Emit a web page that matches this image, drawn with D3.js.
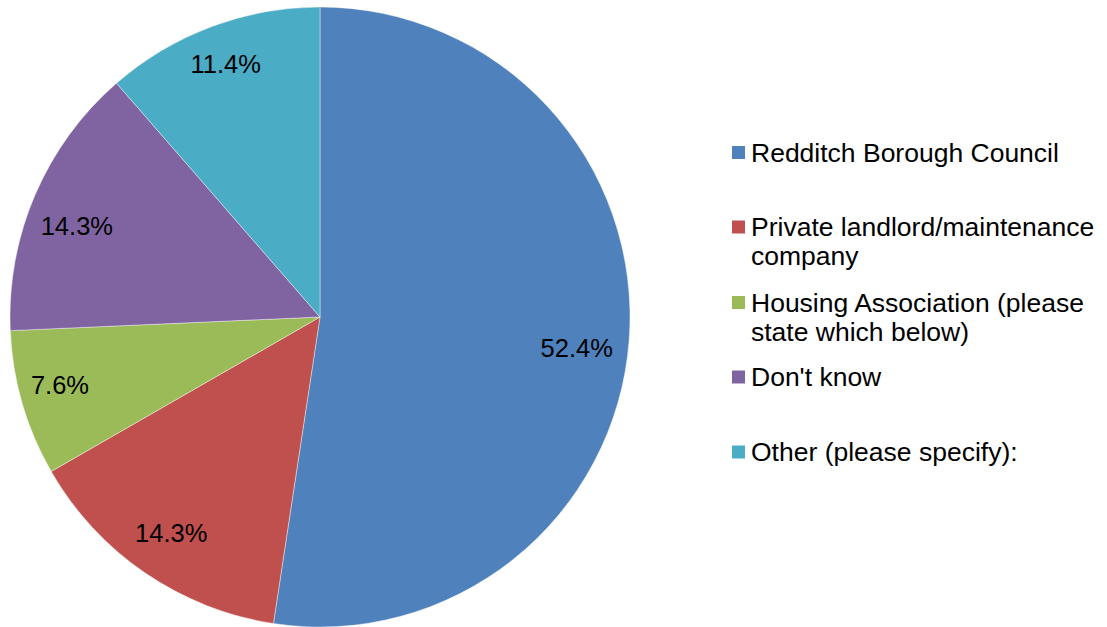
<!DOCTYPE html>
<html>
<head>
<meta charset="utf-8">
<script src="https://cdn.jsdelivr.net/npm/d3@7"></script>
<style>
  html, body { margin: 0; padding: 0; background: #fff; }
  svg { display: block; }
  text { font-family: Arial, "Liberation Sans", sans-serif; fill: #000; }
</style>
</head>
<body>
<svg id="chart" width="1107" height="627"></svg>
<script>
const categories = [
  "Redditch Borough Council",
  "Private landlord/maintenance company",
  "Housing Association (please state which below)",
  "Don't know",
  "Other (please specify):"
];
const legendLines = [
  ["Redditch Borough Council"],
  ["Private landlord/maintenance", "company"],
  ["Housing Association (please", "state which below)"],
  ["Don't know"],
  ["Other (please specify):"]
];
const values = [52.4, 14.3, 7.6, 14.3, 11.4];
const colors = ["#4F81BD", "#C0504D", "#9BBB59", "#8064A2", "#4BACC6"];

// layout-only nudges for the label placement (px, relative to the arc centroid)
const labelNudge = [[-6, 11], [0, -2], [-7, -6], [-1, 13], [-2, -6]];

const svg = d3.select("#chart");
const cx = 320, cy = 317, r = 310;

const data = categories.map((c, i) => ({ name: c, value: values[i], color: colors[i], lines: legendLines[i], nudge: labelNudge[i] }));

const pie = d3.pie().sort(null).value(d => d.value).startAngle(0).endAngle(2 * Math.PI);
const arcs = pie(data);
const arc = d3.arc().innerRadius(0).outerRadius(r);
const labelArc = d3.arc().innerRadius(r * 0.85).outerRadius(r * 0.85);

const g = svg.append("g").attr("transform", `translate(${cx},${cy})`);
g.selectAll("path.slice")
  .data(arcs)
  .join("path")
  .attr("class", "slice")
  .attr("d", arc)
  .attr("fill", d => d.data.color)
  .attr("stroke", "#ffffff")
  .attr("stroke-width", 0.4);

g.selectAll("text.lbl")
  .data(arcs)
  .join("text")
  .attr("class", "lbl")
  .attr("transform", d => {
    const [x, y] = labelArc.centroid(d);
    return `translate(${x + d.data.nudge[0]},${y + d.data.nudge[1]})`;
  })
  .attr("text-anchor", "middle")
  .attr("dy", "0.36em")
  .style("font-size", "25.5px")
  .text(d => d3.format(".1f")(d.data.value) + "%");

// Legend
const legendY = d3.scaleOrdinal()
  .domain(categories)
  .range([161.5, 236, 311.5, 386, 461]);
const lineH = 29;
const lg = svg.append("g");
const items = lg.selectAll("g.item").data(data).join("g").attr("class", "item")
  .attr("transform", d => `translate(0,${legendY(d.name)})`);
items.append("rect")
  .attr("x", 732).attr("y", -15.5)
  .attr("width", 13).attr("height", 13)
  .attr("fill", d => d.color);
items.append("text")
  .attr("x", 751)
  .style("font-size", "26.5px")
  .selectAll("tspan")
  .data(d => d.lines)
  .join("tspan")
  .attr("x", 751)
  .attr("y", (d, i) => i * lineH)
  .text(d => d);
</script>
</body>
</html>
